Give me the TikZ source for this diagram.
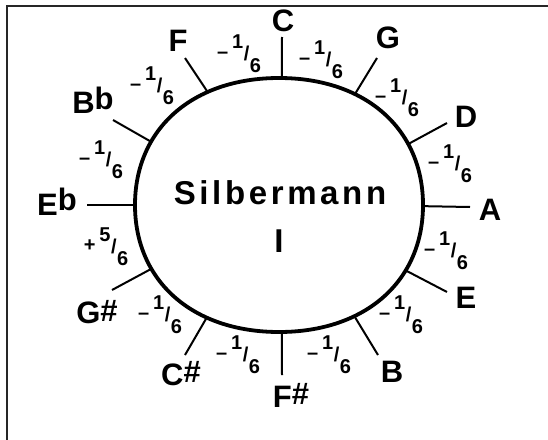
\documentclass[tikz,border=0pt]{standalone}
\usepackage{fontspec}
\setmainfont{Liberation Sans}
\usetikzlibrary{calc}
\newcommand{\sixth}[2]{\raisebox{2pt}{#1}\kern4pt\raisebox{12pt}{#2}\kern0.5pt/\kern0.5pt\raisebox{-12pt}{6}}
\begin{document}
\begin{tikzpicture}[x=1pt,y=-1pt,
  ring/.style={line width=3.8pt, fill=white},
  tickline/.style={line width=2pt},
  frame/.style={line width=2pt, draw=black!85},
  lab/.style={inner sep=0pt, font=\fontsize{31}{31}\selectfont\bfseries},
  frac/.style={inner sep=0pt, font=\fontsize{20}{20}\selectfont\bfseries},
  title/.style={inner sep=0pt, font=\fontsize{33}{33}\selectfont\bfseries\addfontfeature{LetterSpace=11}}]
\useasboundingbox (0,0) rectangle (548,439);
% frame
\coordinate (fa) at (7,445);
\coordinate (fb) at (7,6);
\coordinate (fc) at (555,6);
\draw[frame] (fa) -- (fb) -- (fc);
\coordinate (ctr) at (279,205);
% points on the ring
\coordinate (cC)  at (282,79);
\coordinate (cG)  at (357,92);
\coordinate (cD)  at (408,145);
\coordinate (cA)  at (422,206);
\coordinate (cE)  at (405,270);
\coordinate (cB)  at (355,316);
\coordinate (cFs) at (282,332);
\coordinate (cCs) at (207,316);
\coordinate (cGs) at (152,268);
\coordinate (cEb) at (135,205);
\coordinate (cBb) at (150,142);
\coordinate (cF)  at (208,92);
% outer tick ends
\coordinate (tC)  at (282,37);
\coordinate (tG)  at (377,58);
\coordinate (tD)  at (447,123);
\coordinate (tA)  at (470,207);
\coordinate (tE)  at (447,292);
\coordinate (tB)  at (378,355);
\coordinate (tFs) at (282,375);
\coordinate (tCs) at (185,355);
\coordinate (tGs) at (112,290);
\coordinate (tEb) at (87,205);
\coordinate (tBb) at (113,120);
\coordinate (tF)  at (185,58);
\foreach \n in {C,G,D,A,E,B,Fs,Cs,Gs,Eb,Bb,F} \draw[tickline] ($(c\n)!12pt!(ctr)$) -- (t\n);
% ring: slightly squared ellipse
\def\k{0.6}
\draw[ring] (279,78)
  .. controls ($(279,78)+(144*\k,0)$) and ($(423,205)+(0,-127*\k)$) .. (423,205)
  .. controls ($(423,205)+(0,127*\k)$) and ($(279,332)+(144*\k,0)$) .. (279,332)
  .. controls ($(279,332)+(-144*\k,0)$) and ($(135,205)+(0,127*\k)$) .. (135,205)
  .. controls ($(135,205)+(0,-127*\k)$) and ($(279,78)+(-144*\k,0)$) .. (279,78) -- cycle;
% note labels
\node[lab] (lC)  at (283,21)  {C};
\node[lab] (lG)  at (388,38)  {G};
\node[lab] (lD)  at (466,117) {D};
\node[lab] (lA)  at (490,210) {A};
\node[lab] (lE)  at (466,298) {E};
\node[lab] (lB)  at (392,372) {B};
\node[lab] (lFs) at (291,395) {F\raisebox{3pt}{\#}};
\node[lab] (lCs) at (181,374) {C\raisebox{3pt}{\#}};
\node[lab] (lGs) at (97,312)  {G\raisebox{2pt}{\#}};
\node[lab] (lEb) at (57,202)  {E\raisebox{5pt}{b}};
\node[lab] (lBb) at (93,100)  {B\raisebox{4pt}{b}};
\node[lab] (lF)  at (178,41)  {F};
% fractions
\node[frac] (f1)  at (239,54)  {\sixth{\textendash}{1}};
\node[frac] (f2)  at (321,60)  {\sixth{\textendash}{1}};
\node[frac] (f3)  at (397,98)  {\sixth{\textendash}{1}};
\node[frac] (f4)  at (450,164) {\sixth{\textendash}{1}};
\node[frac] (f5)  at (446,251) {\sixth{\textendash}{1}};
\node[frac] (f6)  at (401,315) {\sixth{\textendash}{1}};
\node[frac] (f7)  at (329,355) {\sixth{\textendash}{1}};
\node[frac] (f8)  at (238,355) {\sixth{\textendash}{1}};
\node[frac] (f9)  at (160,315) {\sixth{\textendash}{1}};
\node[frac] (f10) at (106,247) {\sixth{+}{5}};
\node[frac] (f11) at (101,160) {\sixth{\textendash}{1}};
\node[frac] (f12) at (152,86)  {\sixth{\textendash}{1}};
% centre text
\node[title] (t1) at (280,193) {Silbermann};
\node[title] (t2) at (279,241) {I};
\end{tikzpicture}
\end{document}
